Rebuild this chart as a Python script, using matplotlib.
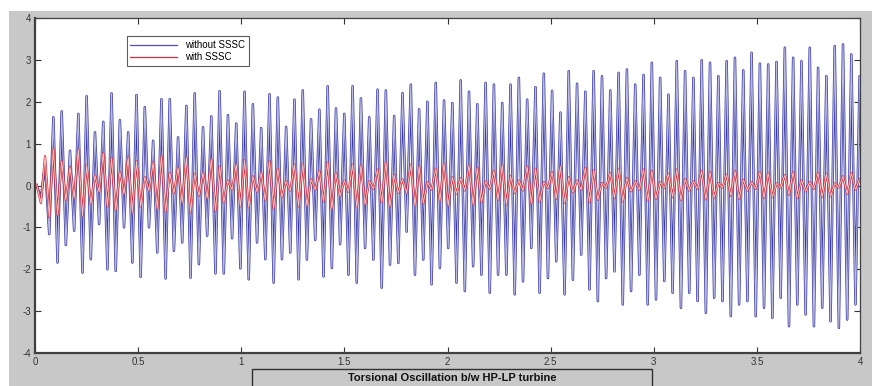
import matplotlib.pyplot as plt
import numpy as np
from matplotlib.patches import Rectangle

# peak / trough values of each cycle (~25 Hz)
t_first = 0.00855     # time of first sample
half_step = 0.02015   # half a cycle

blue_start = [0.0, -0.30, 0.50]
blue_peaks = [1.63, 1.77, 0.83, 1.71, 2.13, 1.27, 1.52, 2.20, 1.56, 1.27,
              2.16, 1.87, 1.07, 2.06, 2.06, 1.15, 1.90, 2.20, 1.39, 1.65,
              2.25, 1.68, 1.48, 2.24, 1.94, 1.37, 2.18, 2.10, 1.40, 2.05,
              2.27, 1.58, 1.81, 2.37, 1.84, 1.71, 2.37, 2.08, 1.63, 2.29,
              2.27, 1.66, 2.21, 2.41, 1.82, 2.00, 2.45, 2.03, 1.97, 2.51,
              2.24, 1.94, 2.45, 2.41, 1.97, 2.41, 2.57, 2.05, 2.35, 2.67,
              2.26, 1.74, 2.73, 2.43, 2.24, 2.73, 2.61, 2.27, 2.69, 2.77,
              2.41, 2.64, 2.93, 2.57, 2.17, 2.97, 2.73, 2.57, 2.99, 2.93,
              2.61, 2.97, 3.05, 2.75, 3.17, 2.91, 2.89, 2.95, 3.29, 3.05,
              2.97, 3.29, 2.81, 2.61, 3.33, 3.37, 3.13, 2.60]
blue_troughs = [-1.16, -1.84, -1.42, -1.08, -2.08, -1.76, -0.92, -2.00, -2.04, -1.00,
                -1.84, -2.18, -1.00, -1.60, -2.22, -1.56, -1.36, -2.20, -1.88, -1.20,
                -2.10, -2.10, -1.26, -1.98, -2.24, -1.36, -1.76, -2.32, -1.76, -1.60,
                -2.24, -1.77, -1.30, -2.17, -1.97, -1.40, -2.13, -2.32, -1.49, -1.77,
                -2.44, -1.89, -1.85, -1.10, -2.13, -1.77, -2.36, -1.97, -1.49, -2.32,
                -2.52, -1.93, -2.13, -2.56, -2.13, -2.13, -2.60, -2.29, -1.49, -2.56,
                -2.21, -1.81, -2.60, -2.25, -1.65, -2.48, -2.76, -2.21, -2.05, -2.84,
                -2.52, -2.13, -2.84, -2.72, -2.28, -2.56, -2.92, -2.56, -2.76, -3.04,
                -2.68, -2.76, -3.12, -2.84, -2.76, -3.12, -2.92, -3.16, -2.68, -3.36,
                -2.84, -3.08, -3.36, -2.92, -3.24, -3.40, -3.20, -2.84]

red_start = [0.02, -0.42, 0.70]
red_peaks = [0.87, 0.58, 0.44, 0.86, 0.48, 0.24, 0.77, 0.65, 0.32, 0.67,
             0.58, 0.20, 0.55, 0.70, 0.30, 0.42, 0.66, 0.28, 0.30, 0.62,
             0.45, 0.12, 0.50, 0.60, 0.22, 0.30, 0.58, 0.40, 0.10, 0.50,
             0.52, 0.15, 0.35, 0.55, 0.30, 0.12, 0.50, 0.48, 0.10, 0.38,
             0.55, 0.25, 0.15, 0.50, 0.45, 0.08, 0.40, 0.52, 0.20, 0.18,
             0.48, 0.42, 0.10, 0.35, 0.48, 0.22, 0.12, 0.45, 0.40, 0.08,
             0.32, 0.45, 0.20, 0.12, 0.42, 0.36, 0.06, 0.30, 0.40, 0.18,
             0.10, 0.38, 0.35, 0.08, 0.28, 0.38, 0.15, 0.10, 0.35, 0.32,
             0.06, 0.26, 0.35, 0.14, 0.08, 0.32, 0.30, 0.05, 0.25, 0.32,
             0.12, 0.08, 0.30, 0.28, 0.05, 0.22, 0.30, 0.15]
red_troughs = [-0.75, -0.70, -0.35, -0.30, -0.72, -0.44, -0.15, -0.50, -0.58, -0.20,
               -0.64, -0.50, -0.12, -0.55, -0.62, -0.18, -0.40, -0.64, -0.25, -0.30,
               -0.60, -0.40, -0.10, -0.50, -0.52, -0.15, -0.35, -0.55, -0.28, -0.12,
               -0.50, -0.48, -0.10, -0.38, -0.55, -0.25, -0.15, -0.52, -0.45, -0.08,
               -0.40, -0.50, -0.18, -0.18, -0.48, -0.42, -0.10, -0.36, -0.48, -0.20,
               -0.12, -0.45, -0.40, -0.08, -0.34, -0.45, -0.18, -0.12, -0.42, -0.38,
               -0.06, -0.32, -0.42, -0.16, -0.10, -0.40, -0.34, -0.05, -0.30, -0.38,
               -0.14, -0.10, -0.36, -0.32, -0.06, -0.28, -0.35, -0.12, -0.08, -0.33,
               -0.30, -0.05, -0.25, -0.32, -0.12, -0.08, -0.30, -0.28, -0.05, -0.22,
               -0.30, -0.14, -0.08, -0.28, -0.26, -0.05, -0.20, -0.10]

x_ticks = [0, 0.5, 1, 1.5, 2, 2.5, 3, 3.5, 4]
x_ticklabels = ['0', '0.5', '1', '1.5', '2', '2.5', '3', '3.5', '4']
y_ticks = [-4, -3, -2, -1, 0, 1, 2, 3, 4]


def series(start, troughs, peaks):
    # trough, peak, trough, peak ...
    body = np.column_stack([troughs, peaks]).ravel()
    v = np.concatenate([start, body])
    t = t_first + half_step * np.arange(len(v))
    return t, v


t_b, v_b = series(blue_start, blue_troughs, blue_peaks)
t_r, v_r = series(red_start, red_troughs, red_peaks)

plt.rcParams['font.family'] = ['Liberation Sans', 'DejaVu Sans']
plt.rcParams['axes.unicode_minus'] = False

fig = plt.figure(figsize=(8.72, 3.86), dpi=100, facecolor='white')
# grey MATLAB window
fig.patches.append(Rectangle((9 / 872, 0), 1, 1 - 11 / 386, transform=fig.transFigure,
                             facecolor='#c8c8c8', edgecolor='none', zorder=-1))

ax = fig.add_axes([35 / 872, 1 - 353 / 386, 825 / 872, 335 / 386])
ax.set_facecolor('white')

ax.plot(t_b, v_b, color='#3838a4', lw=1.8)
ax.plot(t_b, v_b, color='#bcbce2', lw=0.8)
ax.plot(t_r, v_r, color='#d02838', lw=1.6)
ax.plot(t_r, v_r, color='#f8c4bc', lw=0.7)

ax.set_xlim(0, 4)
ax.set_ylim(-4, 4)
ax.set_xticks(x_ticks)
ax.set_xticklabels(x_ticklabels)
ax.set_yticks(y_ticks)
ax.tick_params(direction='in', top=True, right=True, labelsize=7, colors='#333333',
               length=4, width=0.8, pad=3)
for s in ax.spines.values():
    s.set_color('#404040')
    s.set_linewidth(0.9)
ax.spines['left'].set_linewidth(1.6)
ax.spines['bottom'].set_linewidth(1.6)

# legend
h1, = ax.plot([], [], color='#5050a8', lw=0.9)
h2, = ax.plot([], [], color='#d03040', lw=0.9)
leg = ax.legend([h1, h2], ['without SSSC', 'with SSSC'], loc='upper left',
                bbox_to_anchor=(0.111, 0.945), fontsize=7, frameon=True,
                fancybox=False, handlelength=4.8, handletextpad=0.8,
                borderpad=0.4, labelspacing=0.2, borderaxespad=0)
leg.get_frame().set_edgecolor('#333333')
leg.get_frame().set_linewidth(0.8)

# caption box at the bottom
fig.patches.append(Rectangle((252 / 872, -0.05), 400 / 872, 0.05 + 17 / 386,
                             transform=fig.transFigure, facecolor='#c8c8c8',
                             edgecolor='#303030', lw=1.0, zorder=1))
fig.text(452 / 872, 1 - 378 / 386, 'Torsional Oscillation b/w HP-LP turbine',
         ha='center', va='center', fontsize=8, fontweight='bold', color='#111111')

fig.savefig('out.png', dpi=100, facecolor='white')
